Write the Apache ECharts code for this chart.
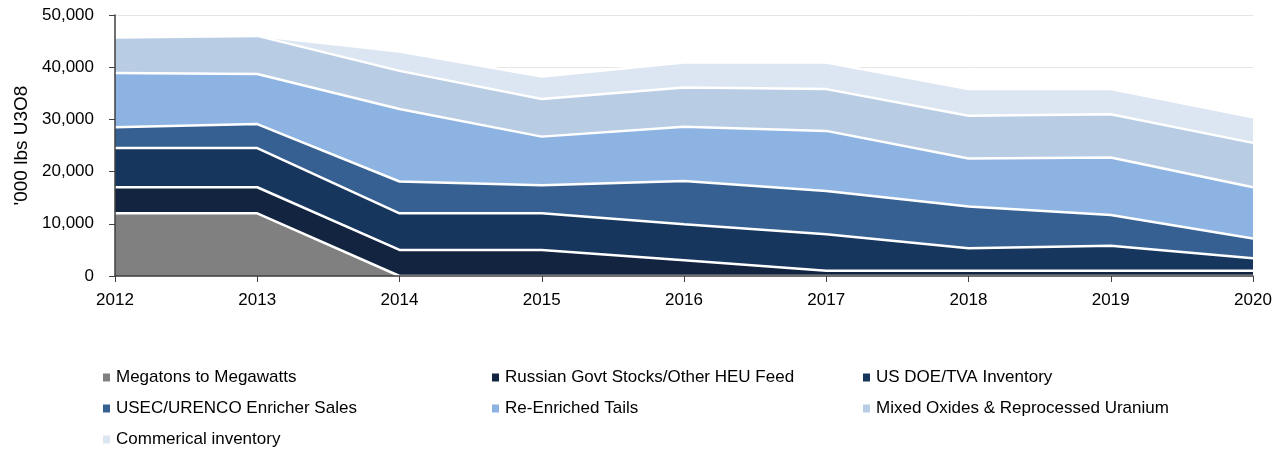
<!DOCTYPE html>
<html lang="en">
<head>
    <meta charset="UTF-8">
    <title>Secondary uranium supply</title>
    <script src="https://cdn.jsdelivr.net/npm/echarts@6/dist/echarts.min.js"></script>
    <style>
        html, body { margin: 0; padding: 0; background: #ffffff; }
        #chart { width: 1279px; height: 452px; }
    </style>
</head>
<body>
    <div id="chart"></div>
    <script>
        // data ('000 lbs U3O8)
        const years = ['2012', '2013', '2014', '2015', '2016', '2017', '2018', '2019', '2020'];
        const megatons = [12000, 12000, 0, 0, 0, 0, 0, 0, 0];
        const russianGovt = [5000, 5000, 5000, 5000, 3000, 1000, 1000, 1000, 1000];
        const usDoe = [7500, 7500, 7000, 7000, 6900, 7000, 4300, 4800, 2400];
        const usecUrenco = [4000, 4600, 6100, 5400, 8300, 8300, 8000, 5900, 3800];
        const reEnriched = [10400, 9600, 13900, 9300, 10400, 11500, 9200, 11000, 9800];
        const mixedOxides = [6800, 7300, 7300, 7200, 7500, 8000, 8200, 8300, 8500];
        const commercial = [0, 0, 3700, 4300, 4800, 5100, 5100, 4800, 4900];
        const yTicks = [0, 10000, 20000, 30000, 40000, 50000];

        const seriesDefs = [
            { name: 'Megatons to Megawatts', data: megatons, color: '#808080' },
            { name: 'Russian Govt Stocks/Other HEU Feed', data: russianGovt, color: '#12243f' },
            { name: 'US DOE/TVA Inventory', data: usDoe, color: '#17365d' },
            { name: 'USEC/URENCO Enricher Sales', data: usecUrenco, color: '#366092' },
            { name: 'Re-Enriched Tails', data: reEnriched, color: '#8db3e2' },
            { name: 'Mixed Oxides & Reprocessed Uranium', data: mixedOxides, color: '#b8cce4' },
            { name: 'Commerical inventory', data: commercial, color: '#dce6f2' }
        ];

        // legend slots: three columns, three rows
        const legendSlots = [
            [98, 364], [487, 364], [858, 364],
            [98, 395], [487, 395], [858, 395],
            [98, 426]
        ];

        const font = 'Liberation Sans, Arial, sans-serif';
        const axisColor = '#404040';

        const chart = echarts.init(document.getElementById('chart'));

        const option = {
            animation: false,
            grid: { left: 115, right: 26, top: 15, bottom: 176 },
            legend: seriesDefs.map(function (s, i) {
                return {
                    data: [s.name],
                    left: legendSlots[i][0],
                    top: legendSlots[i][1],
                    icon: 'rect',
                    itemWidth: 7,
                    itemHeight: 8,
                    itemGap: 0,
                    itemStyle: { borderWidth: 0 },
                    selectedMode: false,
                    textStyle: { fontFamily: font, fontSize: 17, color: '#000', padding: [0, 0, 0, 1] }
                };
            }),
            xAxis: {
                type: 'category',
                data: years,
                boundaryGap: false,
                z: 20,
                axisLine: { lineStyle: { color: axisColor, width: 1.5 } },
                axisTick: { show: true, length: 6, lineStyle: { color: axisColor } },
                axisLabel: { fontFamily: font, fontSize: 17, color: '#000', margin: 16 },
                splitLine: { show: false }
            },
            yAxis: [
                {
                    // gridlines, labels and title sit under the areas
                    type: 'value',
                    min: yTicks[0],
                    max: yTicks[yTicks.length - 1],
                    interval: yTicks[1] - yTicks[0],
                    name: "'000 lbs U3O8",
                    nameLocation: 'middle',
                    nameRotate: 90,
                    nameGap: 78,
                    nameTextStyle: { fontFamily: font, fontSize: 19, color: '#000' },
                    axisLine: { show: false },
                    axisTick: { show: false },
                    axisLabel: {
                        fontFamily: font, fontSize: 17, color: '#000', margin: 21,
                        formatter: function (v) { return v.toLocaleString('en-US'); }
                    },
                    splitLine: { show: true, lineStyle: { color: '#e6e6e6', width: 1 } }
                },
                {
                    // axis line and ticks drawn above the areas
                    type: 'value',
                    position: 'left',
                    min: yTicks[0],
                    max: yTicks[yTicks.length - 1],
                    interval: yTicks[1] - yTicks[0],
                    z: 20,
                    axisLine: { show: true, lineStyle: { color: axisColor, width: 1.5 } },
                    axisTick: { show: true, length: 6, lineStyle: { color: axisColor } },
                    axisLabel: { show: false },
                    splitLine: { show: false }
                }
            ],
            series: seriesDefs.map(function (s, i) {
                return {
                    name: s.name,
                    type: 'line',
                    stack: 'supply',
                    data: s.data,
                    yAxisIndex: 0,
                    z: 10 - i,
                    showSymbol: false,
                    symbol: 'none',
                    color: s.color,
                    itemStyle: { color: s.color },
                    lineStyle: { color: '#ffffff', width: 2.5 },
                    areaStyle: { color: s.color, opacity: 1 }
                };
            })
        };

        chart.setOption(option);
    </script>
</body>
</html>
